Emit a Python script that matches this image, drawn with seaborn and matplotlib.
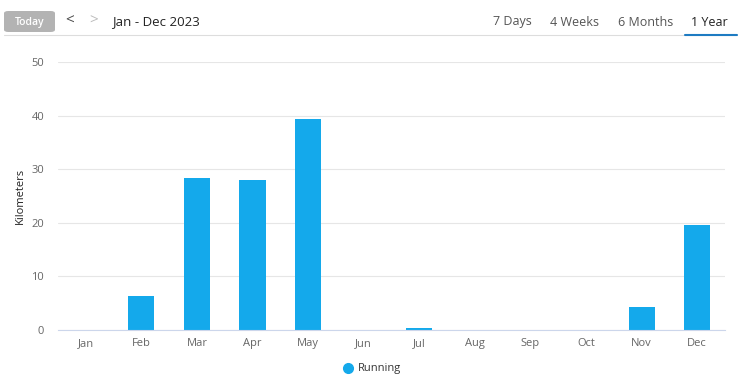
import matplotlib
matplotlib.use('Agg')
import matplotlib.pyplot as plt
from matplotlib.patches import FancyBboxPatch
import seaborn as sns
import pandas as pd

months = ['Jan', 'Feb', 'Mar', 'Apr', 'May', 'Jun',
          'Jul', 'Aug', 'Sep', 'Oct', 'Nov', 'Dec']
running_km = [0, 6.4, 28.4, 28.0, 39.4, 0, 0.4, 0, 0, 0, 4.2, 19.6]
y_ticks = [0, 10, 20, 30, 40, 50]
ranges = ['7 Days', '4 Weeks', '6 Months', '1 Year']
period_label = 'Jan - Dec 2023'
series_name = 'Running'

blue = '#14a9eb'

sns.set_theme(style='white')
plt.rcParams['font.family'] = ['Open Sans', 'DejaVu Sans']

df = pd.DataFrame({'month': months, 'km': running_km})

fig = plt.figure(figsize=(7.4, 3.82), dpi=100)
ax = fig.add_axes([58 / 740, 1 - 330 / 382, 667 / 740, 268 / 382])

sns.barplot(data=df, x='month', y='km', color=blue, width=0.47,
            saturation=1, linewidth=0, ax=ax)

ax.set_ylim(0, 50)
ax.set_xlim(-0.5, 11.5)
ax.set_yticks(y_ticks)
ax.yaxis.grid(True, color='#e6e6e6', linewidth=0.8)
ax.set_axisbelow(True)
for s in ['top', 'right', 'left']:
    ax.spines[s].set_visible(False)
ax.spines['bottom'].set_color('#ccd6eb')
ax.spines['bottom'].set_linewidth(0.8)

ax.tick_params(axis='both', labelsize=8, colors='#666666', length=0)
ax.tick_params(axis='y', pad=10)
ax.tick_params(axis='x', pad=6)
ax.set_xticks([i + 0.5 for i in range(-1, 12)], minor=True)
ax.tick_params(axis='x', which='minor', length=6, color='#ccd6eb', width=0.8)
ax.set_xlabel('')
ax.set_ylabel('Kilometers', fontsize=8, color='#222222', labelpad=4,
              fontweight='medium')

# header bar
fig.add_artist(FancyBboxPatch((4 / 740, 1 - 32 / 382), 51 / 740, 21 / 382,
                              boxstyle='round,pad=0,rounding_size=0.006',
                              transform=fig.transFigure, facecolor='#b3b3b3',
                              edgecolor='none'))
fig.text(29.5 / 740, 1 - 22 / 382, 'Today', ha='center', va='center',
         fontsize=7.5, color='white', fontweight='semibold')
fig.text(70 / 740, 1 - 21 / 382, '<', ha='center', va='center',
         fontsize=11, color='#444444')
fig.text(94 / 740, 1 - 21 / 382, '>', ha='center', va='center',
         fontsize=11, color='#bbbbbb')
fig.text(112 / 740, 1 - 22 / 382, period_label, ha='left', va='center',
         fontsize=9.5, color='#222222')

range_x = [512.5, 575, 645.5, 709]
for label, x in zip(ranges, range_x):
    col = '#222222' if label == '1 Year' else '#555555'
    fig.text(x / 740, 1 - 22 / 382, label, ha='center', va='center',
             fontsize=9, color=col)

fig.add_artist(plt.Line2D([4 / 740, 737 / 740], [1 - 35 / 382] * 2,
                          transform=fig.transFigure, color='#dddddd', lw=0.8))
fig.add_artist(plt.Line2D([685 / 740, 737 / 740], [1 - 35 / 382] * 2,
                          transform=fig.transFigure, color='#1e7bc2', lw=1.5))

# legend
fig.add_artist(plt.Line2D([348 / 740], [1 - 368 / 382], marker='o',
                          markersize=7, color=blue, linestyle='none',
                          transform=fig.transFigure))
fig.text(358 / 740, 1 - 368 / 382, series_name, ha='left', va='center',
         fontsize=8, color='#333333')

fig.savefig('out.png', dpi=100)
